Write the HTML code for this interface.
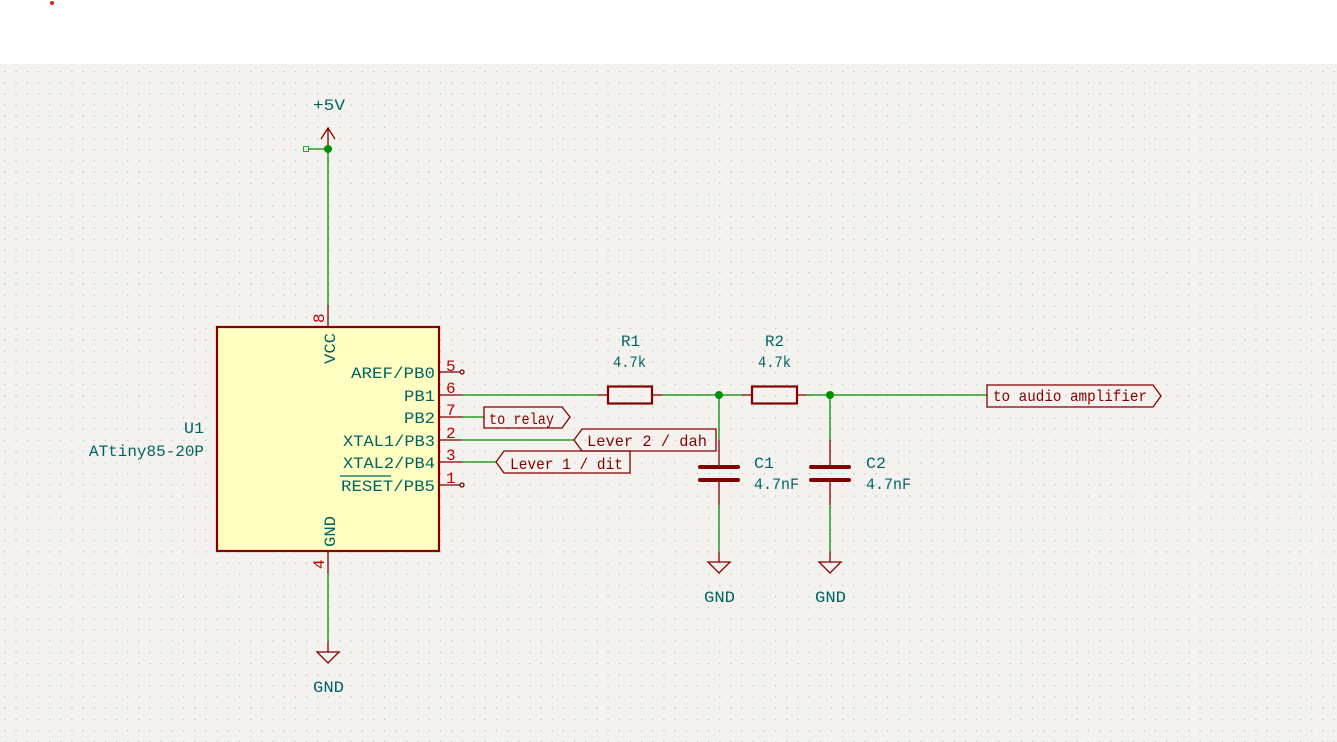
<!DOCTYPE html>
<html><head><meta charset="utf-8"><style>
html,body{margin:0;padding:0;background:#fff;}
svg{display:block;}
text{font-family:"Liberation Mono",monospace;font-size:16px;}
</style></head><body>
<svg width="1337" height="742" viewBox="0 0 1337 742" xmlns="http://www.w3.org/2000/svg">
<defs>
<pattern id="g" x="4.3" y="71" width="11.17" height="11.17" patternUnits="userSpaceOnUse">
<rect x="0" y="0" width="1.2" height="1.2" fill="#b8b8b8"/>
</pattern>
</defs>
<circle cx="52" cy="3" r="2" fill="#e02020"/>
<rect x="0" y="64" width="1337" height="678" fill="#f4f2ee"/>
<rect x="0" y="64" width="1337" height="678" fill="url(#g)"/>

<!-- +5V -->
<text x="313" y="110" fill="#006464" textLength="32" lengthAdjust="spacingAndGlyphs">+5V</text>
<line x1="328" y1="128" x2="328" y2="149" stroke="#840000" stroke-width="1.3"/>
<polyline points="321,139 328,128 335,139" fill="none" stroke="#840000" stroke-width="1.3"/>
<rect x="303.5" y="146.5" width="5" height="5" fill="none" stroke="#22aa22" stroke-width="1"/>
<line x1="308" y1="149" x2="328" y2="149" stroke="#009000" stroke-width="1.3"/>
<circle cx="328" cy="149" r="4" fill="#009000"/>
<line x1="328" y1="149" x2="328" y2="305" stroke="#009000" stroke-width="1.3"/>
<line x1="328" y1="305" x2="328" y2="327" stroke="#840000" stroke-width="1.3"/>

<!-- U1 box -->
<rect x="217" y="327" width="222" height="224" fill="#ffffc2" stroke="#840000" stroke-width="2.2"/>
<text x="324" y="323" fill="#c00000" transform="rotate(-90 324 323)" font-size="15">8</text>
<text x="335" y="364" fill="#006464" transform="rotate(-90 335 364)" textLength="31" lengthAdjust="spacingAndGlyphs">VCC</text>
<text x="335" y="547" fill="#006464" transform="rotate(-90 335 547)" textLength="31" lengthAdjust="spacingAndGlyphs">GND</text>
<text x="324" y="569" fill="#c00000" transform="rotate(-90 324 569)" font-size="15">4</text>
<text x="184" y="433" fill="#006464" textLength="20" lengthAdjust="spacingAndGlyphs">U1</text>
<text x="89" y="456" fill="#006464" textLength="115" lengthAdjust="spacingAndGlyphs">ATtiny85-20P</text>

<g fill="#006464">
<text x="351" y="378" textLength="84" lengthAdjust="spacingAndGlyphs">AREF/PB0</text>
<text x="404" y="401" textLength="31" lengthAdjust="spacingAndGlyphs">PB1</text>
<text x="404" y="423" textLength="31" lengthAdjust="spacingAndGlyphs">PB2</text>
<text x="343" y="446" textLength="92" lengthAdjust="spacingAndGlyphs">XTAL1/PB3</text>
<text x="343" y="468" textLength="92" lengthAdjust="spacingAndGlyphs">XTAL2/PB4</text>
<text x="341" y="491" textLength="94" lengthAdjust="spacingAndGlyphs">RESET/PB5</text>
</g>
<line x1="340" y1="476" x2="391" y2="476" stroke="#006464" stroke-width="1.2"/>
<g fill="#c00000" font-size="16">
<text x="446" y="371">5</text>
<text x="446" y="393">6</text>
<text x="446" y="415">7</text>
<text x="446" y="438">2</text>
<text x="446" y="460">3</text>
<text x="446" y="483">1</text>
</g>
<g stroke="#840000" stroke-width="1.3" fill="none">
<line x1="439" y1="372" x2="460" y2="372"/><circle cx="462" cy="372" r="2"/>
<line x1="439" y1="395" x2="462" y2="395"/>
<line x1="439" y1="417" x2="462" y2="417"/>
<line x1="439" y1="440" x2="462" y2="440"/>
<line x1="439" y1="462" x2="462" y2="462"/>
<line x1="439" y1="485" x2="460" y2="485"/><circle cx="462" cy="485" r="2"/>
</g>
<g stroke="#009000" stroke-width="1.3">
<line x1="462" y1="395" x2="598" y2="395"/>
<line x1="462" y1="417" x2="484" y2="417"/>
<line x1="462" y1="440" x2="574" y2="440"/>
<line x1="462" y1="462" x2="496" y2="462"/>
<line x1="662" y1="395" x2="742" y2="395"/>
<line x1="807" y1="395" x2="987" y2="395"/>
<line x1="719" y1="395" x2="719" y2="440"/>
<line x1="830" y1="395" x2="830" y2="440"/>
<line x1="719" y1="505" x2="719" y2="552"/>
<line x1="830" y1="505" x2="830" y2="552"/>
<line x1="328" y1="573" x2="328" y2="642"/>
</g>

<!-- labels -->
<g stroke="#840000" stroke-width="1.3" fill="none">
<polygon points="484,407 562,407 570,417 562,428 484,428"/>
<polygon points="574,440 582,429 716,429 716,451 582,451"/>
<polygon points="496,462 504,451 630,451 630,473 504,473"/>
<polygon points="987,385 1153,385 1161,396 1153,407 987,407"/>
</g>
<g fill="#840000">
<text x="489" y="424" textLength="65" lengthAdjust="spacingAndGlyphs">to relay</text>
<text x="587" y="446" textLength="120" lengthAdjust="spacingAndGlyphs">Lever 2 / dah</text>
<text x="510" y="469" textLength="113" lengthAdjust="spacingAndGlyphs">Lever 1 / dit</text>
<text x="993" y="401" textLength="154" lengthAdjust="spacingAndGlyphs">to audio amplifier</text>
</g>

<!-- resistors -->
<g stroke="#840000" fill="none">
<line x1="598" y1="395" x2="608" y2="395" stroke-width="1.3"/>
<line x1="652" y1="395" x2="662" y2="395" stroke-width="1.3"/>
<rect x="608" y="386.5" width="44" height="17" stroke-width="2.2"/>
<line x1="742" y1="395" x2="752" y2="395" stroke-width="1.3"/>
<line x1="797" y1="395" x2="807" y2="395" stroke-width="1.3"/>
<rect x="752" y="386.5" width="45" height="17" stroke-width="2.2"/>
</g>
<g fill="#006464">
<text x="621" y="346" textLength="19" lengthAdjust="spacingAndGlyphs">R1</text>
<text x="613" y="367" textLength="33" lengthAdjust="spacingAndGlyphs">4.7k</text>
<text x="765" y="346" textLength="19" lengthAdjust="spacingAndGlyphs">R2</text>
<text x="758" y="367" textLength="33" lengthAdjust="spacingAndGlyphs">4.7k</text>
</g>
<circle cx="719" cy="395" r="4" fill="#009000"/>
<circle cx="830" cy="395" r="4" fill="#009000"/>

<!-- caps -->
<g stroke="#840000">
<line x1="719" y1="440" x2="719" y2="467" stroke-width="1.3"/>
<line x1="719" y1="480" x2="719" y2="505" stroke-width="1.3"/>
<line x1="700" y1="467" x2="738" y2="467" stroke-width="4" stroke-linecap="round"/>
<line x1="700" y1="480" x2="738" y2="480" stroke-width="4" stroke-linecap="round"/>
<line x1="830" y1="440" x2="830" y2="467" stroke-width="1.3"/>
<line x1="830" y1="480" x2="830" y2="505" stroke-width="1.3"/>
<line x1="811" y1="467" x2="849" y2="467" stroke-width="4" stroke-linecap="round"/>
<line x1="811" y1="480" x2="849" y2="480" stroke-width="4" stroke-linecap="round"/>
</g>
<g fill="#006464">
<text x="754" y="468" textLength="20" lengthAdjust="spacingAndGlyphs">C1</text>
<text x="754" y="489" textLength="45" lengthAdjust="spacingAndGlyphs">4.7nF</text>
<text x="866" y="468" textLength="20" lengthAdjust="spacingAndGlyphs">C2</text>
<text x="866" y="489" textLength="45" lengthAdjust="spacingAndGlyphs">4.7nF</text>
</g>

<!-- GND symbols -->
<g stroke="#840000" stroke-width="1.3" fill="none">
<line x1="719" y1="552" x2="719" y2="562"/>
<polygon points="708,562 730,562 719,573"/>
<line x1="830" y1="552" x2="830" y2="562"/>
<polygon points="819,562 841,562 830,573"/>
<line x1="328" y1="551" x2="328" y2="573"/>
<line x1="328" y1="642" x2="328" y2="652"/>
<polygon points="317,652 339,652 328,663"/>
</g>
<g fill="#006464">
<text x="704" y="602" textLength="31" lengthAdjust="spacingAndGlyphs">GND</text>
<text x="815" y="602" textLength="31" lengthAdjust="spacingAndGlyphs">GND</text>
<text x="313" y="692" textLength="31" lengthAdjust="spacingAndGlyphs">GND</text>
</g>
</svg>
</body></html>
